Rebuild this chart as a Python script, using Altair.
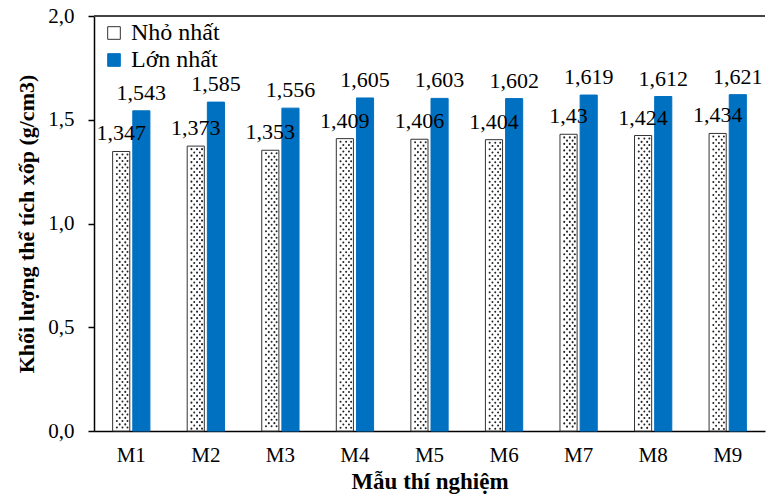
import altair as alt
import pandas as pd

# Bulk density of each test sample (g/cm3): smallest and largest measurement
samples = ["M1", "M2", "M3", "M4", "M5", "M6", "M7", "M8", "M9"]
min_vals = [1.347, 1.373, 1.353, 1.409, 1.406, 1.404, 1.43, 1.424, 1.434]
max_vals = [1.543, 1.585, 1.556, 1.605, 1.603, 1.602, 1.619, 1.612, 1.621]
series_names = ["Nhỏ nhất", "Lớn nhất"]
y_ticks = [0.0, 0.5, 1.0, 1.5, 2.0]

FONT = "Liberation Serif"
BLUE = "#0070C0"

bars_df = pd.DataFrame({
    "sample": samples * 2,
    "series": [series_names[0]] * len(samples) + [series_names[1]] * len(samples),
    "value": min_vals + max_vals,
})
dots_df = pd.DataFrame({"sample": samples, "value": min_vals})

x_scale = alt.Scale(paddingInner=0.5, paddingOuter=0.25)
y_scale = alt.Scale(domain=[0, 2.0], nice=False)

axis_common = dict(labelFont=FONT, titleFont=FONT, labelColor="black",
                   titleColor="black", domainColor="black", domainWidth=1.5,
                   tickColor="black", tickWidth=1.5)

x_enc = alt.X(
    "sample:N", sort=samples, scale=x_scale,
    axis=alt.Axis(title="Mẫu thí nghiệm", ticks=False, labelAngle=0,
                  labelPadding=13, labelFontSize=21, titleFontSize=23,
                  titleFontWeight="bold", titlePadding=5, **axis_common),
)
y_enc = alt.Y(
    "value:Q", scale=y_scale,
    axis=alt.Axis(title="Khối lượng thể tích xốp (g/cm3)", values=y_ticks,
                  labelExpr="replace(format(datum.value, '.1f'), '.', ',')",
                  grid=False, tickSize=6, labelPadding=14, labelFontSize=21,
                  titleFontSize=22, titleFontWeight="bold", titlePadding=9,
                  **axis_common),
)
offset_enc = alt.XOffset("series:N", sort=series_names,
                         scale=alt.Scale(paddingInner=0.15, paddingOuter=0))

fill_scale = alt.Scale(domain=series_names, range=["#ffffff", BLUE])
stroke_scale = alt.Scale(domain=series_names, range=["#333333", BLUE])

base = alt.Chart(bars_df)

bars = base.mark_bar(strokeWidth=1).encode(
    x=x_enc,
    y=y_enc,
    xOffset=offset_enc,
    fill=alt.Fill("series:N", sort=series_names, scale=fill_scale,
                  legend=alt.Legend(title=None, orient="none", legendX=8,
                                    legendY=5, symbolType="square",
                                    symbolSize=160, symbolStrokeWidth=1,
                                    labelFontSize=24, labelFont=FONT,
                                    labelColor="black",
                                    rowPadding=3, labelOffset=5)),
    stroke=alt.Stroke("series:N", sort=series_names, scale=stroke_scale),
)

labels = base.transform_calculate(
    label="replace(toString(datum.value), '.', ',')"
).mark_text(baseline="bottom", dy=-6, fontSize=22, font=FONT, color="black").encode(
    x=alt.X("sample:N", sort=samples),
    y=alt.Y("value:Q"),
    xOffset=offset_enc,
    text="label:N",
)

# Dotted texture of the "Nhỏ nhất" bars: columns of round dash dots
dot_style = dict(color="#222222", strokeWidth=2.0, strokeCap="round",
                 strokeDash=[0.1, 6.4], yOffset=3, y2Offset=-2)
dot_layers = []
for dx, phase in [(-14.4, 0), (-11.6, 3.2), (-8.8, 0), (-6.0, 3.2), (-3.8, 0)]:
    dot_layers.append(
        alt.Chart(dots_df).mark_rule(xOffset=dx, strokeDashOffset=phase, **dot_style).encode(
            x=alt.X("sample:N", sort=samples),
            y=alt.Y("value:Q"),
            y2=alt.datum(0),
        )
    )

top_line = alt.Chart(pd.DataFrame({"k": [0]})).mark_rule(
    color="#444444", strokeWidth=2
).encode(y=alt.datum(2.0))

chart = alt.layer(bars, *dot_layers, labels, top_line).properties(
    width=671, height=415,
    autosize=alt.AutoSizeParams(type="none"),
    padding={"left": 94, "top": 16, "right": 2, "bottom": 66},
).configure(
    background="white", font=FONT
).configure_view(stroke=None).configure_text(font=FONT).configure_legend(
    labelFont=FONT
)

chart.save("out.html", embed_options={"renderer": "svg", "actions": False})
